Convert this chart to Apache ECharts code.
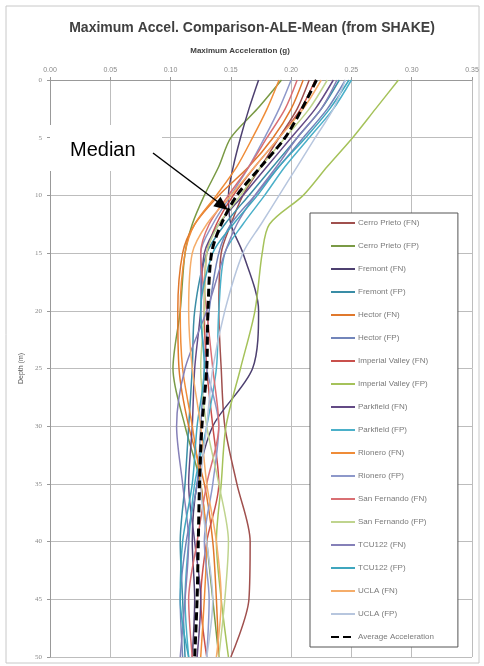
<!DOCTYPE html>
<html>
<head>
<meta charset="utf-8">
<script src="https://cdn.jsdelivr.net/npm/echarts@6/dist/echarts.min.js"></script>
<style>
html,body{margin:0;padding:0;background:#fff;}
#chart{width:484px;height:666px;}
</style>
</head>
<body>
<div id="chart"></div>
<script>
// Depth (m)
const depths = [0, 2.5, 5, 7.5, 10, 12.5, 15, 20, 25, 30, 35, 40, 45, 50];
const xTicks = [0.00, 0.05, 0.10, 0.15, 0.20, 0.25, 0.30, 0.35];
const yTicks = [0, 5, 10, 15, 20, 25, 30, 35, 40, 45, 50];

const seriesNames = [
  'Cerro Prieto (FN)', 'Cerro Prieto (FP)', 'Fremont (FN)', 'Fremont (FP)',
  'Hector (FN)', 'Hector (FP)', 'Imperial Valley (FN)', 'Imperial Valley (FP)',
  'Parkfield (FN)', 'Parkfield (FP)', 'Rionero (FN)', 'Rionero (FP)',
  'San Fernando (FN)', 'San Fernando (FP)', 'TCU122 (FN)', 'TCU122 (FP)',
  'UCLA (FN)', 'UCLA (FP)'
];
const averageName = 'Average Acceleration';

// Maximum acceleration (g) at each depth
const cerroPrietoFN    = [0.215, 0.205, 0.190, 0.175, 0.160, 0.150, 0.142, 0.140, 0.142, 0.145, 0.155, 0.166, 0.165, 0.150];
const cerroPrietoFP    = [0.192, 0.172, 0.150, 0.140, 0.128, 0.118, 0.112, 0.108, 0.102, 0.112, 0.125, 0.130, 0.135, 0.140];
const fremontFN        = [0.173, 0.165, 0.158, 0.152, 0.148, 0.150, 0.160, 0.173, 0.168, 0.135, 0.122, 0.118, 0.120, 0.118];
const fremontFP        = [0.240, 0.225, 0.205, 0.185, 0.165, 0.145, 0.130, 0.120, 0.118, 0.115, 0.112, 0.108, 0.110, 0.112];
const hectorFN         = [0.210, 0.200, 0.185, 0.165, 0.140, 0.120, 0.110, 0.106, 0.107, 0.115, 0.128, 0.135, 0.138, 0.140];
const hectorFP         = [0.245, 0.230, 0.210, 0.190, 0.170, 0.150, 0.140, 0.132, 0.128, 0.125, 0.122, 0.113, 0.108, 0.110];
const imperialValleyFN = [0.220, 0.208, 0.190, 0.170, 0.152, 0.138, 0.130, 0.128, 0.130, 0.135, 0.140, 0.130, 0.125, 0.130];
const imperialValleyFP = [0.289, 0.270, 0.251, 0.230, 0.210, 0.182, 0.176, 0.170, 0.158, 0.146, 0.142, 0.138, 0.142, 0.148];
const parkfieldFN      = [0.235, 0.220, 0.200, 0.180, 0.160, 0.140, 0.128, 0.125, 0.120, 0.118, 0.115, 0.120, 0.125, 0.122];
const parkfieldFP      = [0.250, 0.235, 0.215, 0.195, 0.178, 0.160, 0.145, 0.140, 0.138, 0.130, 0.120, 0.115, 0.112, 0.115];
const rioneroFN        = [0.190, 0.180, 0.168, 0.155, 0.138, 0.120, 0.112, 0.108, 0.110, 0.118, 0.125, 0.130, 0.128, 0.125];
const rioneroFP        = [0.200, 0.190, 0.178, 0.165, 0.150, 0.135, 0.125, 0.125, 0.130, 0.140, 0.135, 0.128, 0.132, 0.130];
const sanFernandoFN    = [0.205, 0.195, 0.180, 0.165, 0.148, 0.132, 0.125, 0.130, 0.135, 0.140, 0.130, 0.122, 0.115, 0.118];
const sanFernandoFP    = [0.230, 0.215, 0.195, 0.175, 0.158, 0.140, 0.130, 0.128, 0.125, 0.130, 0.140, 0.148, 0.145, 0.140];
const tcu122FN         = [0.238, 0.225, 0.205, 0.188, 0.170, 0.155, 0.145, 0.130, 0.112, 0.105, 0.110, 0.115, 0.112, 0.108];
const tcu122FP         = [0.248, 0.232, 0.212, 0.190, 0.172, 0.152, 0.135, 0.125, 0.128, 0.122, 0.118, 0.110, 0.108, 0.115];
const uclaFN           = [0.225, 0.210, 0.190, 0.170, 0.150, 0.130, 0.118, 0.115, 0.118, 0.125, 0.130, 0.138, 0.142, 0.138];
const uclaFP           = [0.245, 0.235, 0.220, 0.205, 0.190, 0.175, 0.160, 0.145, 0.135, 0.130, 0.125, 0.130, 0.135, 0.130];
const averageAccel     = [0.221, 0.209, 0.195, 0.175, 0.155, 0.142, 0.134, 0.131, 0.130, 0.126, 0.124, 0.123, 0.122, 0.120];

const seriesValues = [
  cerroPrietoFN, cerroPrietoFP, fremontFN, fremontFP, hectorFN, hectorFP,
  imperialValleyFN, imperialValleyFP, parkfieldFN, parkfieldFP, rioneroFN, rioneroFP,
  sanFernandoFN, sanFernandoFP, tcu122FN, tcu122FP, uclaFN, uclaFP
];

const colors = [
  '#A0504E', '#7A9A45', '#4D4070', '#3A8DA6', '#E0782C', '#7285BA',
  '#C9504C', '#A5C25A', '#634A85', '#4BB0C9', '#EF8C38', '#8D98CA',
  '#D96F73', '#BFD48E', '#8580B8', '#3FA6BE', '#F5AD6A', '#B7C6DE'
];

const series = seriesValues.map((vals, i) => ({
  name: seriesNames[i],
  type: 'line',
  smooth: 0.3,
  symbol: 'none',
  data: vals.map((v, k) => [v, depths[k]]),
  lineStyle: { color: colors[i], width: 1.5 },
  itemStyle: { color: colors[i] },
  z: 2
}));
series.push({
  name: averageName,
  type: 'line',
  smooth: 0.3,
  symbol: 'none',
  data: averageAccel.map((v, k) => [v, depths[k]]),
  lineStyle: { color: '#000', width: 3, type: [8, 4] },
  itemStyle: { color: '#000' },
  z: 5
});

const chart = echarts.init(document.getElementById('chart'), null, { renderer: 'canvas' });
chart.setOption({
  animation: false,
  backgroundColor: '#fff',
  title: {
    text: 'Maximum Accel. Comparison-ALE-Mean (from SHAKE)',
    left: 247, top: 16, textAlign: 'center',
    textStyle: { fontFamily: 'Liberation Sans', fontWeight: 'bold', fontSize: 14, color: '#404040' }
  },
  grid: { left: 50, right: 12, top: 80, bottom: 9 },
  xAxis: {
    type: 'value', position: 'top',
    min: xTicks[0], max: xTicks[xTicks.length - 1], interval: 0.05,
    name: 'Maximum Acceleration (g)', nameLocation: 'middle', nameGap: 25,
    nameTextStyle: { fontFamily: 'Liberation Sans', fontWeight: 'bold', fontSize: 8, color: '#404040', padding: [0, 42, 0, 0] },
    axisLine: { show: true, lineStyle: { color: '#999', width: 1 } },
    axisTick: { show: true, inside: false, length: 3, lineStyle: { color: '#999' } },
    axisLabel: { fontFamily: 'Liberation Sans', fontSize: 7, color: '#8a8a8a', margin: 6, formatter: v => v.toFixed(2) },
    splitLine: { show: true, lineStyle: { color: '#bdbdbd', width: 1 } }
  },
  yAxis: {
    type: 'value', inverse: true,
    min: yTicks[0], max: yTicks[yTicks.length - 1], interval: 5,
    name: 'Depth (m)', nameLocation: 'middle', nameGap: 14, nameRotate: 90,
    nameTextStyle: { fontFamily: 'Liberation Sans', fontSize: 7, color: '#555' },
    axisLine: { show: true, lineStyle: { color: '#999', width: 1 } },
    axisTick: { show: true, length: 3, lineStyle: { color: '#999' } },
    axisLabel: { fontFamily: 'Liberation Serif', fontSize: 7, color: '#8a8a8a', margin: 8 },
    splitLine: { show: true, lineStyle: { color: '#bdbdbd', width: 1 } }
  },
  legend: {
    orient: 'vertical', left: 310, top: 213,
    padding: [6, 24, 6, 20],
    itemWidth: 24, itemHeight: 8, itemGap: 15,
    itemStyle: { opacity: 0 },
    backgroundColor: '#fff', borderColor: '#555', borderWidth: 1,
    textStyle: { fontFamily: 'Liberation Sans', fontSize: 8, color: '#7a7a7a', padding: [0, 0, 0, -2] },
    data: seriesNames.concat([averageName])
  },
  series: series,
  graphic: [
    { type: 'rect', shape: { x: 6, y: 6, width: 473, height: 657 }, style: { fill: null, stroke: '#c8c8c8', lineWidth: 1 }, z: 0, silent: true },
    { type: 'rect', shape: { x: 50, y: 125, width: 112, height: 46 }, style: { fill: '#fff' }, z: 10 },
    { type: 'text', x: 70, y: 150, style: { text: 'Median', fontFamily: 'Liberation Sans', fontSize: 20, fill: '#000', textVerticalAlign: 'middle' }, z: 11 },
    { type: 'line', shape: { x1: 153, y1: 153, x2: 218, y2: 202 }, style: { stroke: '#000', lineWidth: 1.5 }, z: 11 },
    { type: 'polygon', shape: { points: [[228, 210], [213.3, 206.3], [220.5, 196.7]] }, style: { fill: '#000' }, z: 11 }
  ]
});
</script>
</body>
</html>
